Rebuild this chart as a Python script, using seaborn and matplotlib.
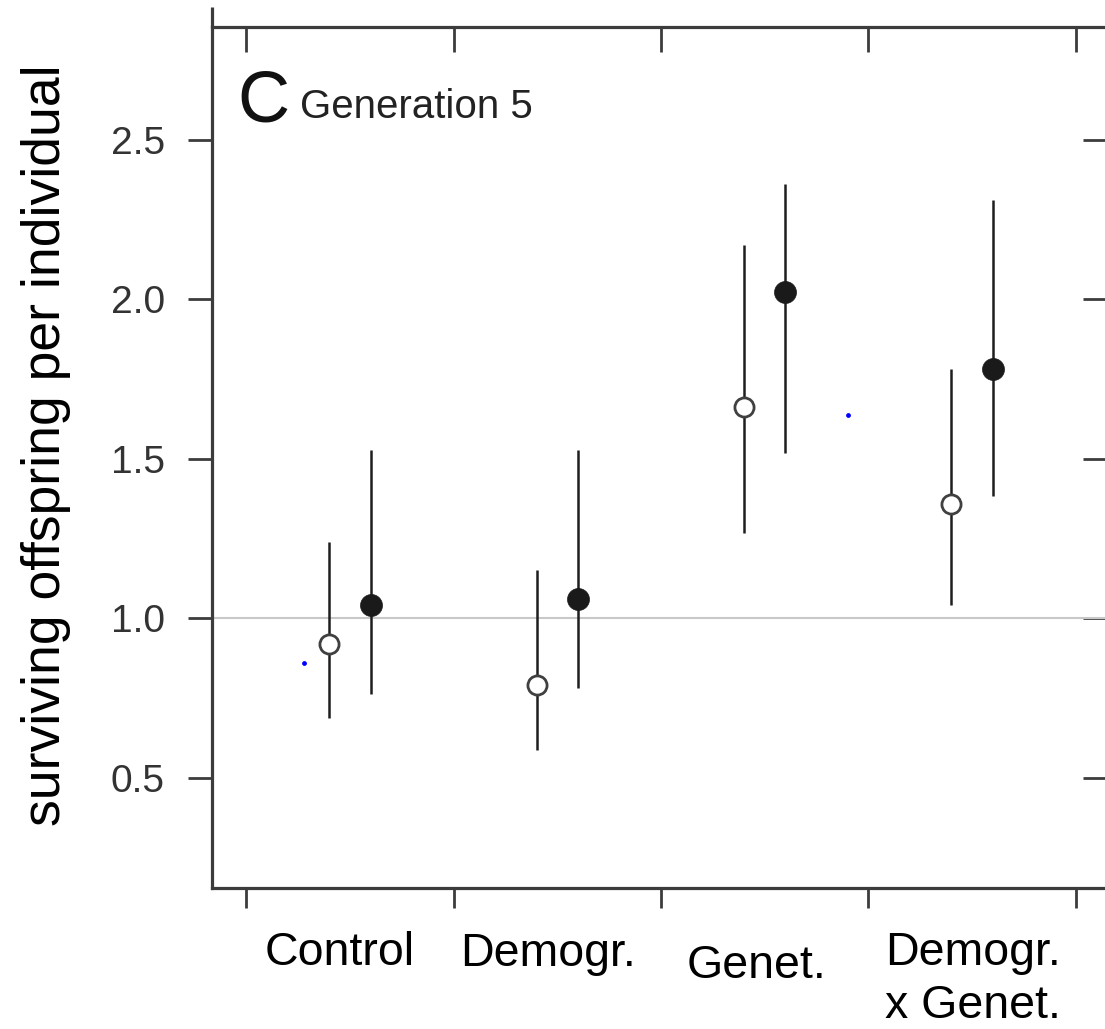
import matplotlib
matplotlib.use("Agg")
import matplotlib.pyplot as plt
import matplotlib.transforms as mtransforms
import numpy as np
import pandas as pd
import seaborn as sns

# values
groups = ["Control", "Demogr.", "Genet.", "Demogr.\nx Genet."]
open_mean = [0.918, 0.791, 1.663, 1.358]
open_lo = [0.686, 0.588, 1.268, 1.042]
open_hi = [1.239, 1.151, 2.172, 1.781]
filled_mean = [1.042, 1.060, 2.022, 1.781]
filled_lo = [0.762, 0.781, 1.519, 1.383]
filled_hi = [1.527, 1.527, 2.362, 2.313]
blue_x = [0.78, 3.40]
blue_y = [0.861, 1.637]
yticks = [0.5, 1.0, 1.5, 2.0, 2.5]

sns.set_theme(style="white")
plt.rcParams["font.family"] = ["Liberation Sans", "DejaVu Sans"]

pos = np.arange(1, len(groups) + 1)
df = pd.DataFrame({
    "x": np.concatenate([pos - 0.1, pos + 0.1]),
    "mean": open_mean + filled_mean,
    "lo": open_lo + filled_lo,
    "hi": open_hi + filled_hi,
    "kind": ["open"] * 4 + ["filled"] * 4,
})

fig = plt.figure(figsize=(11.05, 10.29), dpi=100)
ax = fig.add_axes([212 / 1105, 1 - 888 / 1029, 1 - 212 / 1105, (888 - 27) / 1029])

ax.axhline(1.0, color="#c8c8c8", lw=1.5, zorder=1)
ax.vlines(df["x"], df["lo"], df["hi"], color="#1e1e1e", lw=1.8, zorder=2)
sns.scatterplot(data=df[df.kind == "filled"], x="x", y="mean", ax=ax,
                color="#1a1a1a", s=250, edgecolor="#1a1a1a", linewidth=0.5, zorder=3)
sns.scatterplot(data=df[df.kind == "open"], x="x", y="mean", ax=ax,
                color="white", s=190, edgecolor="#404040", linewidth=2.0, zorder=3)
ax.scatter(blue_x, blue_y, s=6, color="blue", zorder=3)

ax.set_xlim(0.336, 4.64)
ax.set_ylim(0.1545, 2.854)
ax.set_xlabel("")
ax.set_ylabel("")

spine_col = "#3c3c3c"
for side in ["left", "top", "bottom"]:
    ax.spines[side].set_color(spine_col)
    ax.spines[side].set_linewidth(2.3)
ax.spines["right"].set_visible(False)
# left spine pokes a little above the top one
ax.plot([0, 0], [1, 1 + 20 / 861], transform=ax.transAxes, clip_on=False,
        color=spine_col, lw=2.3, solid_capstyle="butt")

ax.set_xticks(np.arange(0.5, len(groups) + 1, 1.0))
ax.set_xticklabels([])
ax.set_yticks(yticks)
ax.set_yticklabels([f"{v:.1f}" for v in yticks])
ax.tick_params(axis="x", which="major", bottom=True, top=False, direction="out",
               length=14.5, width=2, color=spine_col)
ax.tick_params(axis="y", which="major", left=True, right=False, direction="out",
               length=17, width=2, color=spine_col, labelsize=28,
               labelcolor="#333333", pad=17)
# top and right inward ticks
axt = ax.secondary_xaxis("top")
axt.set_xticks(np.arange(0.5, len(groups) + 1, 1.0))
axt.set_xticklabels([])
axt.tick_params(direction="in", length=18, width=2, color=spine_col)
axt.spines["top"].set_visible(False)
axr = ax.secondary_yaxis("right")
axr.set_yticks(yticks)
axr.set_yticklabels([])
axr.tick_params(direction="in", length=16, width=2, color=spine_col)
axr.spines["right"].set_visible(False)

# group labels under the axis
trans = mtransforms.blended_transform_factory(ax.transData, fig.transFigure)
label_x = [0.953, 1.955, 2.958, 4.004]
label_base = [965, 966, 978, 965]
for g, lx, by in zip(groups, label_x, label_base):
    for i, line in enumerate(g.split("\n")):
        ax.text(lx, 1 - (by + 53 * i) / 1029, line, transform=trans,
                ha="center", va="baseline", fontsize=33.5, color="black")

fig.text(237 / 1105, 1 - 122 / 1029, "C", fontsize=52, color="#111111",
         ha="left", va="baseline")
fig.text(300 / 1105, 1 - 118 / 1029, "Generation 5", fontsize=29,
         color="#222222", ha="left", va="baseline")
fig.text(46 / 1105, 1 - 445 / 1029, "surviving offspring per individual",
         rotation=90, fontsize=38.5, color="black", ha="center", va="center")

fig.savefig("out.png", dpi=100)
